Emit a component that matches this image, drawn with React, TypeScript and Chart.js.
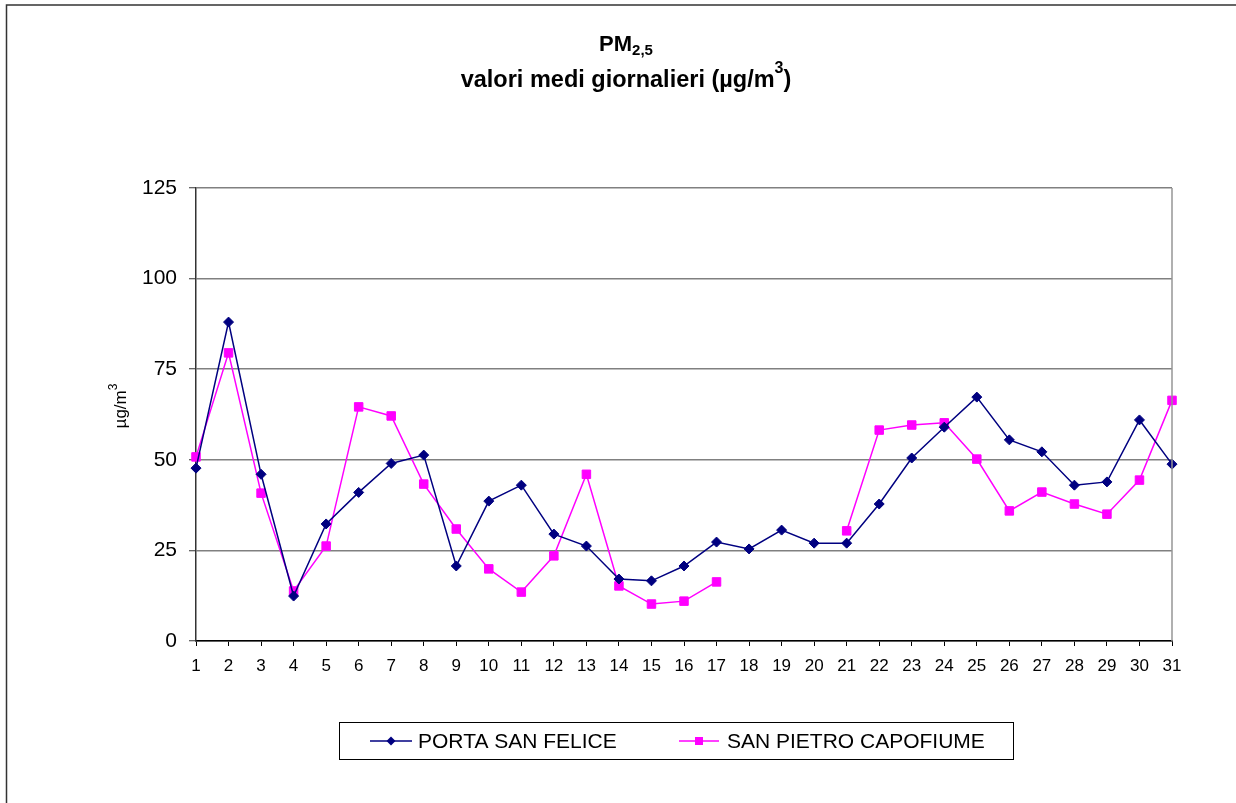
import React, { useEffect, useRef } from "react";
import { Chart, registerables } from "chart.js";

Chart.register(...registerables);

const days = ["1","2","3","4","5","6","7","8","9","10","11","12","13","14","15","16","17","18","19","20","21","22","23","24","25","26","27","28","29","30","31"];

const portaSanFelice = [47.7, 88, 46, 12.4, 32.3, 41, 49, 51.3, 20.7, 38.6, 43, 29.5, 26.2, 17.1, 16.6, 20.7, 27.3, 25.4, 30.6, 27, 27, 37.8, 50.5, 59, 67.3, 55.5, 52.2, 43, 43.9, 61, 48.8];

const sanPietroCapofiume = [50.8, 79.5, 40.8, 13.8, 26.2, 64.6, 62.1, 43.3, 30.9, 19.9, 13.5, 23.5, 46, 15.2, 10.2, 11, 16.3, null, null, null, 30.4, 58.2, 59.6, 60.2, 50.2, 35.9, 41.1, 37.8, 35, 44.4, 66.4];

const seriesLabels = ["PORTA SAN FELICE", "SAN PIETRO CAPOFIUME"];
const seriesColors = ["#000080", "#FF00FF"];

const FONT = '"Liberation Sans", Arial, sans-serif';

const decorPlugin = {
  id: "decor",
  afterDraw(chart: any) {
    const ctx = chart.ctx as CanvasRenderingContext2D;
    const area = chart.chartArea;
    ctx.save();

    // outer border (chart object frame)
    ctx.strokeStyle = "#333333";
    ctx.lineWidth = 1.5;
    ctx.beginPath();
    ctx.moveTo(6.5, 900);
    ctx.lineTo(6.5, 5);
    ctx.lineTo(1300, 5);
    ctx.stroke();

    // plot area right border
    ctx.strokeStyle = "#969696";
    ctx.lineWidth = 1.5;
    ctx.beginPath();
    ctx.moveTo(area.right, area.top);
    ctx.lineTo(area.right, area.bottom);
    ctx.stroke();

    // Title
    ctx.fillStyle = "#000";
    ctx.textBaseline = "alphabetic";
    const cx = 626;
    ctx.font = `bold 22px ${FONT}`;
    const pmW = ctx.measureText("PM").width;
    ctx.font = `bold 15px ${FONT}`;
    const subW = ctx.measureText("2,5").width;
    let x0 = cx - (pmW + subW) / 2;
    ctx.textAlign = "left";
    ctx.font = `bold 22px ${FONT}`;
    ctx.fillText("PM", x0, 51);
    ctx.font = `bold 15px ${FONT}`;
    ctx.fillText("2,5", x0 + pmW, 55);

    const l2a = "valori medi giornalieri (\u00B5g/m";
    ctx.font = `bold 23.5px ${FONT}`;
    const aW = ctx.measureText(l2a).width;
    const cW = ctx.measureText(")").width;
    ctx.font = `bold 16px ${FONT}`;
    const supW = ctx.measureText("3").width;
    x0 = cx - (aW + supW + cW) / 2;
    ctx.font = `bold 23.5px ${FONT}`;
    ctx.fillText(l2a, x0, 87);
    ctx.font = `bold 16px ${FONT}`;
    ctx.fillText("3", x0 + aW, 73);
    ctx.font = `bold 23.5px ${FONT}`;
    ctx.fillText(")", x0 + aW + supW, 87);

    // Y axis title (rotated)
    ctx.save();
    ctx.translate(126, 406);
    ctx.rotate(-Math.PI / 2);
    ctx.font = `17px ${FONT}`;
    const yW = ctx.measureText("\u00B5g/m").width;
    ctx.font = `12px ${FONT}`;
    const y3W = ctx.measureText("3").width;
    const ys = -(yW + y3W) / 2;
    ctx.font = `17px ${FONT}`;
    ctx.fillText("\u00B5g/m", ys, 0);
    ctx.font = `12px ${FONT}`;
    ctx.fillText("3", ys + yW, -9);
    ctx.restore();

    // Legend
    ctx.strokeStyle = "#000";
    ctx.lineWidth = 1;
    ctx.strokeRect(339.5, 722.5, 674, 37);
    const items = [
      { x1: 370, x2: 412, tx: 418 },
      { x1: 679, x2: 719, tx: 727 },
    ];
    const ly = 741;
    items.forEach((it, i) => {
      ctx.strokeStyle = seriesColors[i];
      ctx.lineWidth = 1.5;
      ctx.beginPath();
      ctx.moveTo(it.x1, ly);
      ctx.lineTo(it.x2, ly);
      ctx.stroke();
      const mx = (it.x1 + it.x2) / 2;
      ctx.fillStyle = seriesColors[i];
      ctx.beginPath();
      if (i === 0) {
        const r = 4.5;
        ctx.moveTo(mx - r, ly);
        ctx.lineTo(mx, ly - r);
        ctx.lineTo(mx + r, ly);
        ctx.lineTo(mx, ly + r);
        ctx.closePath();
      } else {
        ctx.rect(mx - 4, ly - 4, 8, 8);
      }
      ctx.fill();
      ctx.fillStyle = "#000";
      ctx.font = `21px ${FONT}`;
      ctx.textBaseline = "middle";
      ctx.textAlign = "left";
      ctx.fillText(chart.data.datasets[i].label, it.tx, ly + 1);
    });

    ctx.restore();
  },
};

export default function App() {
  const ref = useRef<HTMLCanvasElement | null>(null);

  useEffect(() => {
    document.body.style.margin = "0";
    const canvas = ref.current;
    if (!canvas) return;
    const chart = new Chart(canvas, {
      type: "line",
      data: {
        labels: days,
        datasets: [
          {
            label: seriesLabels[0],
            data: portaSanFelice,
            borderColor: seriesColors[0],
            backgroundColor: seriesColors[0],
            borderWidth: 1.5,
            pointStyle: "rectRot",
            pointRadius: 5,
            pointBorderWidth: 1,
            pointBorderColor: seriesColors[0],
            pointBackgroundColor: seriesColors[0],
            tension: 0,
            spanGaps: false,
          },
          {
            label: seriesLabels[1],
            data: sanPietroCapofiume,
            borderColor: seriesColors[1],
            backgroundColor: seriesColors[1],
            borderWidth: 1.5,
            pointStyle: "rect",
            pointRadius: 6,
            pointBorderWidth: 1,
            pointBorderColor: seriesColors[1],
            pointBackgroundColor: seriesColors[1],
            tension: 0,
            spanGaps: false,
          },
        ],
      },
      options: {
        responsive: false,
        animation: false,
        events: [],
        layout: { padding: { left: 0, top: 188, right: 64, bottom: 122 } },
        plugins: {
          legend: { display: false },
          title: { display: false },
          tooltip: { enabled: false },
        },
        scales: {
          x: {
            type: "category",
            offset: false,
            afterFit: (s: any) => { s.height = 40; },
            grid: {
              display: true,
              drawOnChartArea: false,
              drawTicks: true,
              tickLength: 5,
              tickColor: "#000",
              tickWidth: 1,
            },
            border: { display: true, color: "#000", width: 1.5 },
            ticks: {
              color: "#000",
              font: { family: FONT, size: 17 },
              padding: 10,
              maxRotation: 0,
              autoSkip: false,
            },
          },
          y: {
            min: 0,
            max: 125,
            afterFit: (s: any) => { s.width = 196; },
            grid: {
              color: "#808080",
              lineWidth: 1.5,
              tickLength: 7,
              tickColor: "#333",
              tickWidth: 1,
            },
            border: { display: true, color: "#333", width: 1.5 },
            ticks: {
              stepSize: 25,
              color: "#000",
              font: { family: FONT, size: 21 },
              padding: 12,
            },
          },
        },
      },
      plugins: [decorPlugin],
    });
    return () => chart.destroy();
  }, []);

  return (
    <div style={{ position: "absolute", left: 0, top: 0, width: 1236, height: 803, background: "#fff" }}>
      <canvas ref={ref} width={1236} height={803} style={{ display: "block", width: 1236, height: 803 }} />
    </div>
  );
}
